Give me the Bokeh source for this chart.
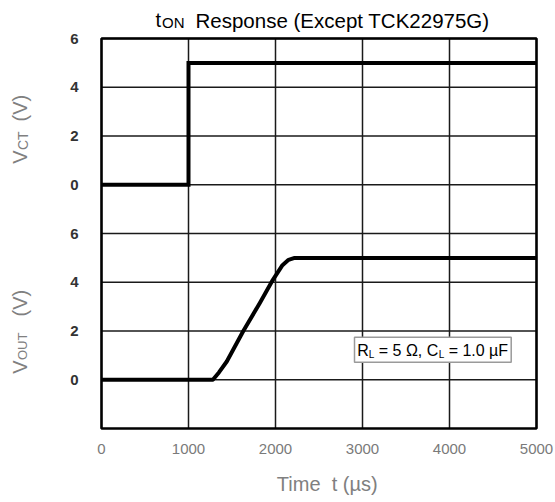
from math import pi, sin, cos
from bokeh.plotting import figure
from bokeh.models import Range1d, FixedTicker, Label, BoxAnnotation
from bokeh.embed import file_html
from bokeh.resources import INLINE

# ---- data ----
t_ct = [0, 1000, 1000, 5000]            # us
v_ct = [0.0, 0.0, 5.0, 5.0]             # V
t_out = [0, 1280, 1350, 1440, 1630, 1820, 1970, 2080, 2150, 2220, 2300, 5000]
v_out = [0.0, 0.0, 0.3, 0.75, 2.0, 3.15, 4.1, 4.7, 4.92, 5.0, 5.0, 5.0]
x_ticks = [0, 1000, 2000, 3000, 4000, 5000]
v_ticks = [0, 2, 4, 6]
title_main = "Response (Except TCK22975G)"
x_label = "Time\u00a0\u00a0t (\u00b5s)"

# two stacked panels on one shared axis
OUT_BASE = 2
CT_BASE = 10
X_MAX = 5000
Y_MAX = 16

W, H = 555, 502
FL, FR, FT, FB = 101, 536, 38, 428     # plot box in page pixels
FONT = "Liberation Sans"
MID = 0.3465                           # baseline -> box middle, in em

xs = X_MAX / (FR - FL)
ys = Y_MAX / (FB - FT)
p = figure(width=W, height=H, output_backend="svg", toolbar_location=None,
           x_range=Range1d(-FL * xs, X_MAX + (W - FR) * xs),
           y_range=Range1d(-(H - FB) * ys, Y_MAX + FT * ys),
           min_border=0, min_border_left=0, min_border_right=0,
           min_border_top=0, min_border_bottom=0)
p.title.visible = False
p.outline_line_color = None
p.background_fill_color = "white"
p.border_fill_color = "white"
p.grid.visible = False

y_tick_pos = [OUT_BASE + v for v in v_ticks] + [CT_BASE + v for v in v_ticks]
overrides = {OUT_BASE + v: str(v) for v in v_ticks}
overrides.update({CT_BASE + v: str(v) for v in v_ticks})

for ax in (p.xaxis[0], p.yaxis[0]):
    ax.axis_line_color = None
    ax.major_tick_line_color = None
    ax.minor_tick_line_color = None
    ax.major_label_text_font = FONT
    ax.major_label_text_font_size = "15px"
    ax.fixed_location = 0

p.xaxis.ticker = FixedTicker(ticks=x_ticks)
p.xaxis.major_label_text_color = "#7a7a7a"
p.xaxis.major_label_standoff = 9
p.yaxis.ticker = FixedTicker(ticks=y_tick_pos)
p.yaxis.major_label_overrides = overrides
p.yaxis.major_label_text_color = "#333333"
p.yaxis.major_label_text_font_style = "bold"
p.yaxis.major_label_standoff = 17

# grid lines limited to the plot box
GRID = dict(line_color="#1a1a1a", line_width=1.5)
p.segment(x0=x_ticks, y0=[0] * len(x_ticks), x1=x_ticks, y1=[Y_MAX] * len(x_ticks), **GRID)
p.segment(x0=[0] * len(y_tick_pos), y0=y_tick_pos, x1=[X_MAX] * len(y_tick_pos), y1=y_tick_pos, **GRID)

p.line(t_ct, [v + CT_BASE for v in v_ct], line_width=4, color="black", line_join="miter")
p.line(t_out, [v + OUT_BASE for v in v_out], line_width=4, color="black", line_join="round")

# plot box outline
p.add_layout(BoxAnnotation(left=0, right=X_MAX, bottom=0, top=Y_MAX,
                           fill_alpha=0.0, line_color="black", line_width=2.5,
                           line_alpha=1.0))


def cx(X):
    return (X - FL) * xs


def cy(Y):
    return (FB - Y) * ys


# legend box
p.add_layout(BoxAnnotation(left=cx(354), right=cx(510.7), bottom=cy(361.7), top=cy(336.7),
                           fill_color="white", fill_alpha=1.0, line_color="#9a9a9a",
                           line_width=1.5, line_alpha=1.0))


def lab(X, Y, text, size, color="black", angle=0.0, align="left", style="normal"):
    # (X, Y): start of the text baseline in page pixels (y down)
    d = MID * size
    sx = X - d * sin(angle)
    sy = (H - Y) + d * cos(angle)
    p.add_layout(Label(x=sx, y=sy, x_units="screen", y_units="screen",
                       text=text, text_font=FONT, text_font_size=f"{size}px",
                       text_color=color, text_align=align, text_baseline="middle",
                       angle=angle, text_font_style=style))


# title
lab(155, 26.7, "t", 20)
lab(161.5, 26.7, "ON", 15)
lab(195, 26.7, title_main, 20.5)

# y labels (rotated)
GRAY = "#808080"
lab(26, 163.3, "V", 20, GRAY, pi / 2)
lab(27, 149.5, "CT", 14, GRAY, pi / 2)
lab(26, 121.0, "(V)", 20, GRAY, pi / 2)

lab(26, 373.3, "V", 20, GRAY, pi / 2)
lab(27, 359.5, "OUT", 13, GRAY, pi / 2)
lab(26, 316.0, "(V)", 20, GRAY, pi / 2)

# x label
lab(326.7, 490.7, x_label, 20, GRAY, 0.0, "center")

# legend text
fs, fsub = 16, 10
x0, yb = 356.7, 355.7
lab(x0, yb, "R", fs)
x1 = x0 + 0.722 * fs
lab(x1, yb + 1.5, "L", fsub)
x2 = x1 + 0.556 * fsub
lab(x2, yb, "\u00a0= 5 \u03a9, C", fs)
x3 = x2 + 4.020 * fs
lab(x3, yb + 1.5, "L", fsub)
x4 = x3 + 0.556 * fsub
lab(x4, yb, "\u00a0= 1.0 \u00b5F", fs)

open("out.html", "w").write(file_html(p, INLINE))
